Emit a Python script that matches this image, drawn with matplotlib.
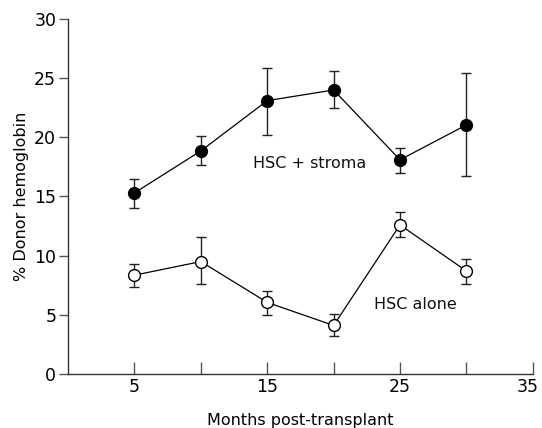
import numpy as np
import matplotlib
matplotlib.use('Agg')
import matplotlib.pyplot as plt
import matplotlib.transforms as mtransforms

# months post-transplant
months = [5, 10, 15, 20, 25, 30]

# HSC + stroma (filled circles): mean, lower, upper
stroma_mean = [15.3, 18.85, 23.1, 24.0, 18.1, 21.05]
stroma_low = [14.0, 17.7, 20.2, 22.5, 17.0, 16.7]
stroma_high = [16.5, 20.1, 25.9, 25.6, 19.1, 25.4]

# HSC alone (open circles)
alone_mean = [8.35, 9.5, 6.05, 4.1, 12.6, 8.7]
alone_low = [7.35, 7.6, 5.0, 3.2, 11.6, 7.6]
alone_high = [9.3, 11.55, 7.05, 5.1, 13.65, 9.7]

xticks = [5, 10, 15, 20, 25, 30, 35]
xticklabels = ['5', '', '15', '', '25', '', '35']
yticks = [0, 5, 10, 15, 20, 25, 30]

plt.rcParams['font.family'] = ['DejaVu Sans']

fig = plt.figure(figsize=(5.42, 4.28), dpi=100)
ax = fig.add_axes([0.1255, 0.1262, 0.8575, 0.8294])

def errs(mean, low, high):
    m = np.array(mean)
    return [m - np.array(low), np.array(high) - m]

ax.errorbar(months, stroma_mean, yerr=errs(stroma_mean, stroma_low, stroma_high),
            color='black', lw=0.9, marker='o', ms=8.5, mfc='black', mec='black',
            ecolor='#222222', elinewidth=1.0, capsize=3.5, capthick=1.0)
ax.errorbar(months, alone_mean, yerr=errs(alone_mean, alone_low, alone_high),
            color='black', lw=0.9, marker='o', ms=8.5, mfc='white', mec='black', mew=1.0,
            ecolor='#222222', elinewidth=1.0, capsize=3.5, capthick=1.0)

ax.text(18.2, 17.75, 'HSC + stroma', fontsize=11.5, ha='center', va='center', color='#111111')
ax.text(26.15, 5.85, 'HSC alone', fontsize=11.5, ha='center', va='center', color='#111111')

ax.set_xlim(0, 35)
ax.set_ylim(0, 30)
ax.set_xticks(xticks)
ax.set_xticklabels(xticklabels)
ax.set_yticks(yticks)
ax.spines['top'].set_visible(False)
ax.spines['right'].set_visible(False)
for s in ['left', 'bottom']:
    ax.spines[s].set_color('#333333')
    ax.spines[s].set_linewidth(1.0)
ax.tick_params(axis='x', direction='in', length=9, width=1.0, color='#555555',
               labelsize=12.5, pad=3)
ax.tick_params(axis='y', direction='out', length=6.5, width=1.0, color='#555555',
               labelsize=12.5, pad=2)
# nudge the last x label so it stays inside the figure
last = ax.get_xticklabels()[-1]
last.set_transform(last.get_transform() + mtransforms.ScaledTranslation(-5 / 100, 0, fig.dpi_scale_trans))
ax.set_xlabel('Months post-transplant', fontsize=11.5, labelpad=12)
ax.set_ylabel('% Donor hemoglobin', fontsize=11.5, labelpad=4)

fig.savefig('out.png', dpi=100)
